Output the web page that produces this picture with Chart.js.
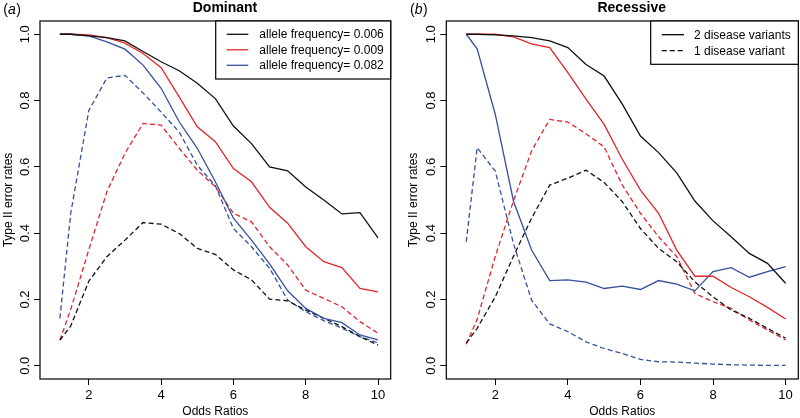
<!DOCTYPE html>
<html><head><meta charset="utf-8">
<script src="https://cdn.jsdelivr.net/npm/chart.js@4.4.1/dist/chart.umd.min.js"></script>
<style>
html,body{margin:0;padding:0;background:#fff;}
#wrap{position:relative;width:800px;height:418px;background:#fff;}
.panel{position:absolute;top:0;width:400px;height:418px;}
</style></head><body>
<div id="wrap">
<div class="panel" style="left:0"><canvas id="c1" width="400" height="418"></canvas></div>
<div class="panel" style="left:400px"><canvas id="c2" width="400" height="418"></canvas></div>
</div>
<script>
// ---------- data ----------
const oddsRatios = [1.2,1.5,2,2.5,3,3.5,4,4.5,5,5.5,6,6.5,7,7.5,8,8.5,9,9.5,10];
const xTicks = [2,4,6,8,10];
const yTicks = [0,0.2,0.4,0.6,0.8,1.0];

// (a) Dominant — solid lines
const domSolid006 = [1.0,1.0,0.995,0.99,0.98,0.948,0.917,0.89,0.852,0.806,0.723,0.670,0.600,0.588,0.539,0.500,0.458,0.462,0.386];
const domSolid009 = [1.0,1.0,0.998,0.99,0.973,0.942,0.899,0.811,0.721,0.676,0.595,0.555,0.478,0.43,0.359,0.314,0.296,0.233,0.223];
const domSolid082 = [1.0,1.0,0.995,0.977,0.955,0.907,0.837,0.736,0.656,0.555,0.445,0.379,0.307,0.226,0.173,0.143,0.130,0.093,0.078];
// (a) Dominant — dashed lines
const domDash006 = [0.077,0.12,0.255,0.329,0.379,0.432,0.427,0.399,0.354,0.336,0.289,0.259,0.201,0.196,0.168,0.143,0.118,0.088,0.062];
const domDash009 = [0.077,0.17,0.35,0.525,0.641,0.731,0.726,0.656,0.59,0.54,0.46,0.434,0.359,0.304,0.228,0.203,0.178,0.133,0.098];
const domDash082 = [0.143,0.46,0.77,0.868,0.876,0.823,0.765,0.705,0.605,0.543,0.414,0.359,0.294,0.198,0.163,0.136,0.113,0.088,0.069];

// (b) Recessive — solid (2 disease variants)
const recSolid006 = [1.0,1.0,0.998,0.995,0.99,0.98,0.96,0.909,0.874,0.789,0.693,0.643,0.582,0.497,0.437,0.389,0.339,0.309,0.249];
const recSolid009 = [1.0,1.0,1.0,0.992,0.971,0.96,0.884,0.804,0.728,0.623,0.53,0.46,0.349,0.27,0.27,0.236,0.208,0.176,0.141];
const recSolid082 = [1.0,0.956,0.758,0.497,0.349,0.257,0.259,0.252,0.233,0.24,0.23,0.257,0.246,0.226,0.284,0.296,0.267,0.284,0.299];
// (b) Recessive — dashed (1 disease variant)
const recDash006 = [0.068,0.113,0.208,0.33,0.445,0.545,0.566,0.59,0.553,0.495,0.414,0.354,0.314,0.253,0.208,0.168,0.143,0.113,0.083];
const recDash009 = [0.065,0.14,0.33,0.497,0.648,0.743,0.735,0.7,0.66,0.545,0.46,0.389,0.329,0.218,0.193,0.173,0.138,0.108,0.078];
const recDash082 = [0.374,0.658,0.587,0.369,0.198,0.126,0.103,0.072,0.052,0.037,0.019,0.012,0.011,0.008,0.005,0.003,0.002,0.001,0.001];

const domLegend = ['allele frequency= 0.006','allele frequency= 0.009','allele frequency= 0.082'];
const recLegend = ['2 disease variants','1 disease variant'];

// ---------- styles ----------
const FONT = '"Liberation Sans", Arial, Helvetica, sans-serif';
const BLACK = '#111111', RED = '#e3262a', BLUE = '#34509e';
const DASH = [5,3];

function ds(label, arr, color, dashed){
  return {label, data: oddsRatios.map((x,i)=>({x:x, y:arr[i]})),
    borderColor: color, backgroundColor: color, borderWidth: 1.3,
    borderDash: dashed ? DASH : [], pointRadius: 0, tension: 0, fill: false};
}

function decor(o){
  return {
    id: 'decor',
    afterDatasetsDraw(chart){
      const ctx = chart.ctx, a = chart.chartArea;
      ctx.save();
      // frame
      ctx.strokeStyle = '#000'; ctx.lineWidth = 1.2;
      ctx.strokeRect(a.left, a.top, a.right - a.left, a.bottom - a.top);
      // legend box
      const bx = a.right - o.legW, by = a.top;
      ctx.fillStyle = '#fff';
      ctx.fillRect(bx, by, o.legW, o.legH);
      ctx.strokeRect(bx, by, o.legW, o.legH);
      ctx.font = '12px ' + FONT;
      ctx.textBaseline = 'middle'; ctx.textAlign = 'left';
      o.items.forEach((it, i) => {
        const y = by + o.row0 + i * o.rowStep;
        ctx.strokeStyle = it.color; ctx.lineWidth = 1.3;
        ctx.setLineDash(it.dashed ? DASH : []);
        ctx.beginPath(); ctx.moveTo(bx + o.lx0, y); ctx.lineTo(bx + o.lx1, y); ctx.stroke();
        ctx.setLineDash([]);
        ctx.fillStyle = '#000';
        ctx.fillText(it.text, bx + o.tx, y + 0.5);
      });
      ctx.restore();
    },
    afterDraw(chart){
      const ctx = chart.ctx;
      ctx.save();
      ctx.fillStyle = '#000';
      ctx.textBaseline = 'alphabetic';
      // main title
      ctx.font = 'bold 14px ' + FONT; ctx.textAlign = 'center';
      ctx.fillText(o.title, o.titleX, 11.8);
      // panel tag "(a)" with italic letter
      ctx.textAlign = 'left';
      let x = o.tagX;
      ctx.font = '14px ' + FONT; ctx.fillText('(', x, 14); x += ctx.measureText('(').width;
      ctx.font = 'italic 14px ' + FONT; ctx.fillText(o.tag, x, 14); x += ctx.measureText(o.tag).width + 0.5;
      ctx.font = '14px ' + FONT; ctx.fillText(')', x, 14);
      ctx.restore();
    }
  };
}

function options(yw, rightPad, yTitlePad){
  return {
    responsive: false, animation: false, devicePixelRatio: 1,
    layout: {padding: {top: 21, right: rightPad, left: 0, bottom: 0}},
    plugins: {legend: {display: false}, tooltip: {enabled: false}, title: {display: false}},
    scales: {
      x: {
        type: 'linear', min: 0.65, max: 10.35,
        afterBuildTicks: s => { s.ticks = xTicks.map(v => ({value: v})); },
        afterFit: s => { s.height = 39; },
        grid: {display: true, drawOnChartArea: false, drawTicks: true, tickLength: 6, color: '#000', lineWidth: 1},
        border: {display: false},
        ticks: {padding: 2.5, color: '#000', maxRotation: 0, font: {family: FONT, size: 13}, callback: v => String(v)},
        title: {display: true, text: 'Odds Ratios', color: '#000', font: {family: FONT, size: 12, lineHeight: 1}, padding: {top: 0, bottom: 0}}
      },
      y: {
        type: 'linear', min: -0.04, max: 1.04,
        afterBuildTicks: s => { s.ticks = yTicks.map(v => ({value: v})); },
        afterFit: s => { s.width = yw; },
        grid: {display: true, drawOnChartArea: false, drawTicks: true, tickLength: 6, color: '#000', lineWidth: 1},
        border: {display: false},
        ticks: {padding: 0, color: '#000', minRotation: 90, maxRotation: 90, crossAlign: 'center', font: {family: FONT, size: 13}, callback: v => v.toFixed(1)},
        title: {display: true, text: 'Type II error rates', color: '#000', font: {family: FONT, size: 12}, padding: {top: yTitlePad, bottom: 0}}
      }
    }
  };
}

new Chart(document.getElementById('c1'), {
  type: 'line',
  data: {datasets: [
    ds(domLegend[0], domSolid006, BLACK, false),
    ds(domLegend[1], domSolid009, RED, false),
    ds(domLegend[2], domSolid082, BLUE, false),
    ds(domLegend[0] + ' (dashed)', domDash006, BLACK, true),
    ds(domLegend[1] + ' (dashed)', domDash009, RED, true),
    ds(domLegend[2] + ' (dashed)', domDash082, BLUE, true)
  ]},
  options: options(40, 9.3, 1.1),
  plugins: [decor({title: 'Dominant', titleX: 225, tag: 'a', tagX: 3.3,
    legW: 175, legH: 58, row0: 13.3, rowStep: 15.5, lx0: 11, lx1: 32.6, tx: 43.6,
    items: [{text: domLegend[0], color: BLACK}, {text: domLegend[1], color: RED}, {text: domLegend[2], color: BLUE}]})]
});

new Chart(document.getElementById('c2'), {
  type: 'line',
  data: {datasets: [
    ds('2 variants af 0.006', recSolid006, BLACK, false),
    ds('2 variants af 0.009', recSolid009, RED, false),
    ds('2 variants af 0.082', recSolid082, BLUE, false),
    ds('1 variant af 0.006', recDash006, BLACK, true),
    ds('1 variant af 0.009', recDash009, RED, true),
    ds('1 variant af 0.082', recDash082, BLUE, true)
  ]},
  options: options(46.3, 1.7, 6.1),
  plugins: [decor({title: 'Recessive', titleX: 231.7, tag: 'b', tagX: 10,
    legW: 147.6, legH: 43.3, row0: 13.7, rowStep: 16, lx0: 11, lx1: 33.3, tx: 43.3,
    items: [{text: recLegend[0], color: '#000'}, {text: recLegend[1], color: '#000', dashed: true}]})]
});
</script>
</body></html>
